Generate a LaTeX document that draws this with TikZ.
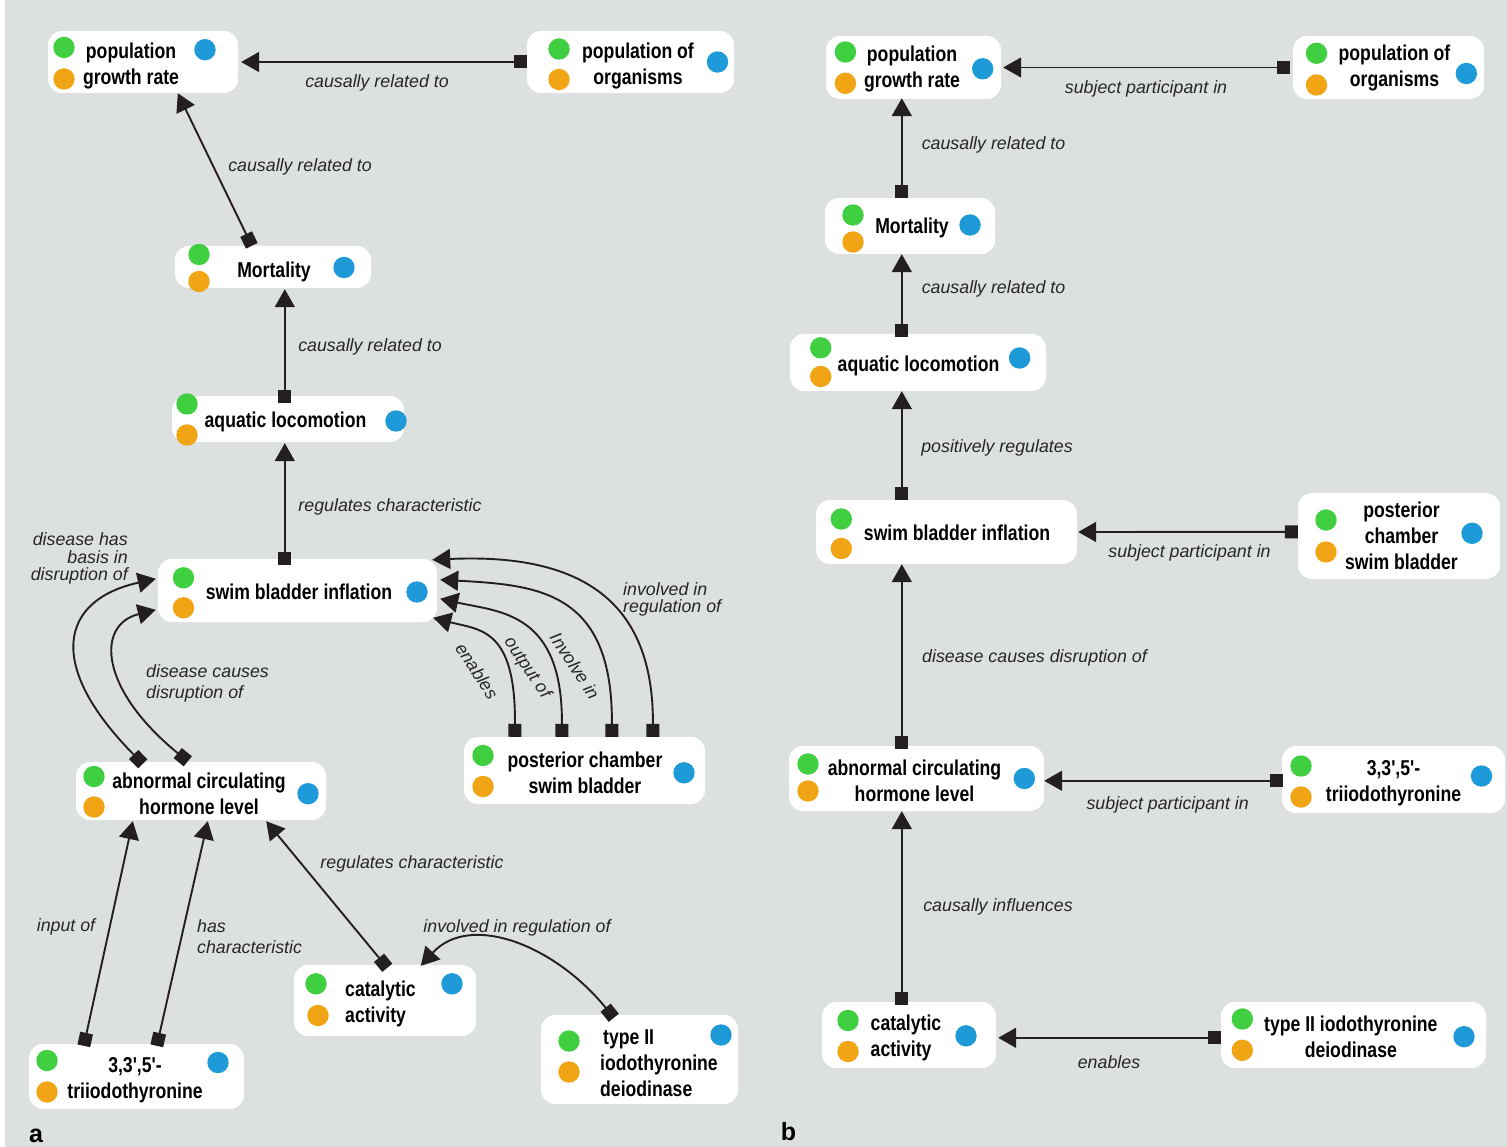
\documentclass[tikz,border=0pt]{standalone}
\usepackage{fontspec}
\setmainfont{Liberation Sans}
\newfontfamily\boxfont[FakeStretch=0.82]{Liberation Sans}
\usetikzlibrary{arrows.meta,calc,fit}
\definecolor{bg}{HTML}{DDE0E1}
\definecolor{ink}{HTML}{231F20}
\definecolor{gdot}{HTML}{3FCF40}
\definecolor{odot}{HTML}{F1A514}
\definecolor{bdot}{HTML}{1E9AD8}
\newcommand\tridots[6]{\fill[gdot] (#1,#2) circle (10.7pt); \fill[odot] (#3,#4) circle (10.7pt); \fill[bdot] (#5,#6) circle (10.7pt);}
\newcommand\duodots[4]{\fill[gdot] (#1,#2) circle (10.7pt); \fill[odot] (#3,#4) circle (10.7pt);}
\tikzset{
 obox/.style={fill=white, rounded corners=14pt, inner sep=0pt},
 otext/.style={font=\boxfont\bfseries\fontsize{21.5}{26}\selectfont, inner sep=0pt, text=black, align=center},
 lbl/.style={font=\itshape\fontsize{17.8}{18}\selectfont, inner sep=0pt, text=black!85},
 conn/.style={draw=ink, line width=1.9pt},
 arr/.style={conn, arrows={Square[length=13pt,width=13pt]-Triangle[length=18pt,width=20pt]}},
 panel/.style={font=\bfseries\fontsize{25}{28}\selectfont, inner sep=0pt}
}
\begin{document}
\begin{tikzpicture}[x=1pt,y=-1pt]
\useasboundingbox (0,0) rectangle (1507,1147);
\fill[white] (0,0) rectangle (1507,1147);
\fill[bg] (5,0) rectangle (1507,1147);

% ---------- panel a boxes ----------
\node[obox, fit={(48,31)(238,93)}] (pgrA) {};
\node[obox, fit={(527,31)(734,93)}] (poaA) {};
\node[obox, fit={(175,246)(371,288)}] (mortA) {};
\node[obox, fit={(172,396)(404,442)}] (aquaA) {};
\node[obox, fit={(158,559)(437,622)}] (sbiA) {};
\node[obox, fit={(464,737)(705,804)}] (pcsbA) {};
\node[obox, fit={(76,762)(326,820)}] (achlA) {};
\node[obox, fit={(294,965)(476,1036)}] (catA) {};
\node[obox, fit={(29,1044)(244,1109)}] (t3A) {};
\node[obox, fit={(541,1015)(738,1104)}] (deioA) {};

\tridots{64}{47.5}{64}{79}{205}{49.7}
\tridots{559}{49}{559}{79.5}{717.5}{62}
\tridots{199}{254.5}{199}{281.5}{344}{267.5}
\tridots{187}{404}{187}{435}{396}{421}
\tridots{183.5}{577.8}{183.5}{607.8}{417}{592}
\tridots{483}{755.5}{483}{786.5}{684}{772.8}
\tridots{94}{776.5}{94}{807}{308}{793.7}
\tridots{316}{983.8}{318}{1015.5}{452}{983.8}
\tridots{47}{1060.5}{47}{1092}{218}{1062.5}
\tridots{569}{1041}{569}{1072}{721}{1035}

\node[otext] (pgrA-t) at (131,66) {population\\growth rate};
\node[otext] (poaA-t) at (638,66) {population of\\organisms};
\node[otext] (mortA-t) at (274,272) {Mortality};
\node[otext] (aquaA-t) at (285.5,422) {aquatic locomotion};
\node[otext] (sbiA-t) at (299,592) {swim bladder inflation};
\node[otext] (pcsbA-t) at (585,773) {posterior chamber\\swim bladder};
\node[otext] (achlA-t) at (199,794) {abnormal circulating\\hormone level};
\node[otext, align=left, anchor=west] (catA-t) at (345,1004) {catalytic\\activity};
\node[otext] (t3A-t) at (135,1080) {3,3',5'-\\triiodothyronine};
\node[otext, align=left, anchor=west] (deioA-t) at (600,1063) {\hspace*{3pt}type II\\iodothyronine\\deiodinase};

% ---------- panel a connectors ----------
\draw[arr] (poaA.west) -- ($(pgrA.east)+(3,0)$);
\draw[arr] ($(mortA.north west)+(77,0)$) -- ($(pgrA.south west)+(130,0)$);
\draw[arr] ($(aquaA.north west)+(113,7)$) -- ($(mortA.south west)+(110,1)$);
\draw[arr] ($(sbiA.north west)+(127,6)$) -- ($(aquaA.south west)+(113,1)$);
\draw[arr] ($(achlA.north west)+(67,2)$) .. controls (45,665) and (60,600) .. ($(sbiA.north west)+(-2,20)$);
\draw[arr] ($(achlA.north west)+(112,-0.5)$) .. controls (100,690) and (95,625) .. ($(sbiA.north west)+(-2,51)$);
\draw[arr] ($(pcsbA.north west)+(51,0)$) .. controls (516,628) and (480,630) .. ($(sbiA.north east)+(-4,59)$);
\draw[arr] ($(pcsbA.north west)+(98,0)$) .. controls (563,612) and (500,612) .. ($(sbiA.north east)+(3,40)$);
\draw[arr] ($(pcsbA.north west)+(148,0)$) .. controls (613,592) and (540,585) .. ($(sbiA.north east)+(3,21)$);
\draw[arr] ($(pcsbA.north west)+(189,0)$) .. controls (654,600) and (580,553) .. ($(sbiA.north east)+(-5,1)$);
\draw[arr] ($(t3A.north west)+(55,2)$) -- ($(achlA.south west)+(57,1)$);
\draw[arr] ($(t3A.north west)+(128,2)$) -- ($(achlA.south west)+(132,1)$);
\draw[arr] ($(catA.north west)+(93.5,3)$) -- ($(achlA.south east)+(-60,1)$);
\draw[arr] ($(deioA.north west)+(73,3)$) .. controls (555,945) and (470,912) .. ($(catA.north west)+(127,1)$);

% ---------- panel a labels ----------
\node[lbl] (la1) at (377,83) {causally related to};
\node[lbl] (la2) at (300,167) {causally related to};
\node[lbl] (la3) at (370,346.5) {causally related to};
\node[lbl] (la4) at (390,506.5) {regulates characteristic};
\node[lbl, align=right, anchor=east, font=\itshape\fontsize{17.8}{17.5}\selectfont] (la5) at (128,558.5) {disease has\\basis in\\disruption of};
\node[lbl, align=left, anchor=west, font=\itshape\fontsize{17.8}{21.5}\selectfont] (la6) at (146,683.5) {disease causes\\disruption of};
\node[lbl, rotate=-57] (la7) at (477,671) {enables};
\node[lbl, rotate=-56] (la8) at (527,668) {output of};
\node[lbl, rotate=-57] (la9) at (575,666) {Involve in};
\node[lbl, align=left, anchor=west, font=\itshape\fontsize{17.8}{17.5}\selectfont] (la10) at (623,599.5) {involved in\\regulation of};
\node[lbl] (la11) at (66,926.5) {input of};
\node[lbl, align=left, anchor=west, font=\itshape\fontsize{17.8}{21}\selectfont] (la12) at (197,936.5) {has\\characteristic};
\node[lbl] (la13) at (412,863.5) {regulates characteristic};
\node[lbl] (la14) at (517,927.5) {involved in regulation of};
\node[panel] (pa) at (36,1136) {a};

% ---------- panel b boxes ----------
\node[obox, fit={(826,36)(1001,99)}] (pgrB) {};
\node[obox, fit={(1293,36)(1484,99)}] (poaB) {};
\node[obox, fit={(825,198)(995,254)}] (mortB) {};
\node[obox, fit={(790,334)(1046,391)}] (aquaB) {};
\node[obox, fit={(816,500)(1077,564)}] (sbiB) {};
\node[obox, fit={(1298,493)(1500,579)}] (pcsbB) {};
\node[obox, fit={(789,746)(1044,811)}] (achlB) {};
\node[obox, fit={(1282,746)(1505,813)}] (t3B) {};
\node[obox, fit={(822,1002)(996,1068)}] (catB) {};
\node[obox, fit={(1221,1002)(1486,1068)}] (deioB) {};

\tridots{845.4}{52}{845.4}{83.3}{982.7}{68.8}
\tridots{1316.5}{53.3}{1316.5}{85}{1466.3}{73.5}
\tridots{853}{215}{853}{242}{970}{225}
\tridots{820.7}{347.8}{820.7}{376.5}{1019.6}{358}
\duodots{841.3}{519}{841.3}{548.5}
\tridots{1326}{520}{1326}{552}{1472}{533.3}
\tridots{808}{764}{808}{791}{1024.3}{778.5}
\tridots{1301}{766}{1301}{797}{1481.5}{776}
\tridots{848}{1020.5}{848}{1051.5}{966}{1035.8}
\tridots{1242.3}{1019}{1242.3}{1050.3}{1464}{1036.7}

\node[otext] (pgrB-t) at (912,69) {population\\growth rate};
\node[otext] (poaB-t) at (1394.5,68.3) {population of\\organisms};
\node[otext] (mortB-t) at (912,228) {Mortality};
\node[otext] (aquaB-t) at (918.5,365.5) {aquatic locomotion};
\node[otext] (sbiB-t) at (957,533) {swim bladder inflation};
\node[otext] (pcsbB-t) at (1401.5,536.3) {posterior\\chamber\\swim bladder};
\node[otext] (achlB-t) at (914.5,781) {abnormal circulating\\hormone level};
\node[otext] (t3B-t) at (1393.5,783.2) {3,3',5'-\\triiodothyronine};
\node[otext, align=left, anchor=west] (catB-t) at (870.5,1038) {catalytic\\activity};
\node[otext] (deioB-t) at (1350.8,1037) {type II iodothyronine\\deiodinase};

% ---------- panel b connectors ----------
\draw[arr] ($(poaB.west)+(-3,0)$) -- ($(pgrB.east)+(2,0)$);
\draw[arr] ($(mortB.north west)+(77,0)$) -- ($(pgrB.south west)+(76,-1)$);
\draw[arr] ($(aquaB.north west)+(112,3)$) -- ($(mortB.south west)+(77,0)$);
\draw[arr] ($(sbiB.north west)+(86,0)$) -- ($(aquaB.south west)+(112,0)$);
\draw[arr] ($(pcsbB.north west)+(0,39)$) -- ($(sbiB.east)+(1,0)$);
\draw[arr] ($(achlB.north west)+(113,3)$) -- ($(sbiB.south west)+(86,0)$);
\draw[arr] ($(t3B.north west)+(1,35)$) -- ($(achlB.north east)+(0,35)$);
\draw[arr] ($(catB.north west)+(80,3)$) -- ($(achlB.south west)+(113,0)$);
\draw[arr] ($(deioB.north west)+(0,36)$) -- ($(catB.north east)+(2,36)$);

% ---------- panel b labels ----------
\node[lbl] (lb1) at (1146,88.5) {subject participant in};
\node[lbl] (lb2) at (993.5,144.5) {causally related to};
\node[lbl] (lb3) at (993.5,288.5) {causally related to};
\node[lbl] (lb4) at (997,447.5) {positively regulates};
\node[lbl] (lb5) at (1189.5,553) {subject participant in};
\node[lbl] (lb6) at (1034.5,658) {disease causes disruption of};
\node[lbl] (lb7) at (1167.7,804.5) {subject participant in};
\node[lbl] (lb8) at (998,906.5) {causally influences};
\node[lbl] (lb9) at (1109,1062) {enables};
\node[panel] (pb) at (788.5,1132) {b};
\end{tikzpicture}
\end{document}
